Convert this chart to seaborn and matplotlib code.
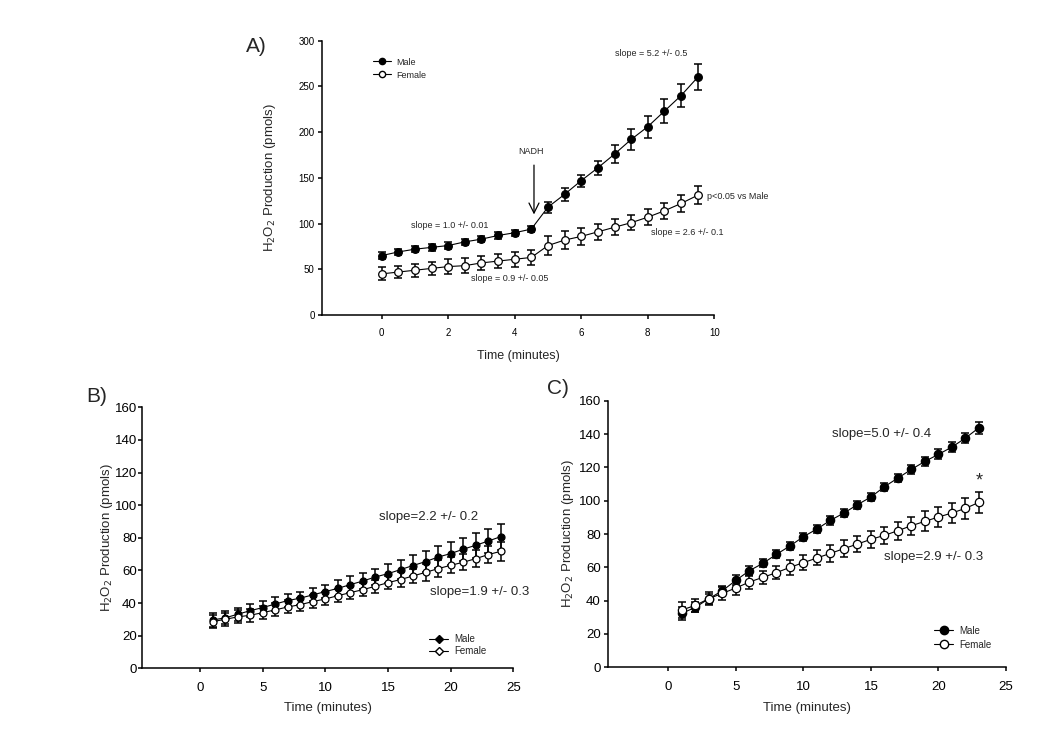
import matplotlib
matplotlib.use("Agg")
import matplotlib.pyplot as plt
from matplotlib.lines import Line2D
import seaborn as sns
import pandas as pd

sns.set_theme(style="ticks")
plt.rcParams['font.family'] = ['Liberation Sans', 'DejaVu Sans']

# Panel A: NADH added at 4.5 min
a_time = [0, 0.5, 1, 1.5, 2, 2.5, 3, 3.5, 4, 4.5, 5, 5.5, 6, 6.5, 7, 7.5, 8, 8.5, 9, 9.5]
a_male = [65, 69, 72, 74, 76, 80, 83, 87, 90, 94, 118, 132, 147, 161, 176, 192, 206, 223, 240, 260]
a_male_err = [3.5, 3.5, 3.5, 3.5, 3.5, 3.5, 3.5, 3.5, 3.5, 3.5, 6, 7, 6.5, 8, 10, 12, 12, 13, 13, 14]
a_female = [45, 47, 49, 51, 53, 54, 57, 59, 61, 63, 76, 82, 86, 91, 96, 101, 107, 114, 122, 131]
a_female_err = [7, 7, 7, 7, 8, 8, 8, 8, 8, 8, 10, 10, 9, 9, 9, 8, 9, 9, 9, 10]

# Panel B
b_time = list(range(1, 25))
b_male = [29.6, 30.9, 33.1, 35.3, 37.2, 39.4, 41.5, 43, 45, 47, 49, 51.3,
          53.5, 56, 58, 60.5, 63, 65.4, 68.2, 70.3, 73, 75.4, 78, 80.7]
b_male_err = [4, 4, 4, 4, 4, 4, 4, 4, 4, 4, 5, 5, 5, 5, 6, 6, 6.5, 6.5, 7, 7, 7, 7.5, 7.5, 8]
b_female = [28.6, 30, 31.5, 32.5, 34.1, 35.8, 37.6, 39, 40.9, 42.5, 44.5, 46.4,
            48.2, 50.3, 52.5, 54.4, 56.6, 58.8, 61.1, 63.1, 65, 67.2, 69.7, 71.7]
b_female_err = [4, 4, 4, 4, 4, 4, 4, 4, 4, 4, 4, 4, 4, 4, 4, 4.5, 4.5, 5, 5, 5, 5, 5, 5, 6]

# Panel C
c_time = list(range(1, 24))
c_male = [32.4, 36, 41.2, 46, 52.2, 58, 62.4, 67.8, 72.8, 78.4, 83, 88.2,
          92.6, 97.6, 102.2, 108.4, 113.6, 118.8, 123.6, 127.8, 132.2, 137.6, 143.8]
c_male_err = [4, 3, 3, 3, 3, 3, 2.5, 2.5, 2.5, 2.5, 2.5, 2.5, 2.5, 2.5, 2.5,
              2.5, 2.5, 2.5, 2.5, 3, 3, 3, 3.5]
c_female = [34.4, 37.2, 41.2, 44.4, 47.6, 51.2, 54, 56.8, 60, 62.8, 65.6, 68.4,
            71.2, 74, 76.8, 79.2, 82, 85, 87.6, 90.2, 92.6, 95.4, 99]
c_female_err = [5, 4, 4, 4, 4, 4, 4, 4, 4.5, 4.5, 4.5, 5, 5, 5, 5, 5, 5.5, 5.5,
                6, 6, 6, 6.5, 6.2]

ylab = "H$_2$O$_2$ Production (pmols)"


def draw(ax, t, y, err, filled, ms, cap):
    df = pd.DataFrame({"t": t, "y": y, "err": err})
    ax.errorbar(df["t"], df["y"], yerr=df["err"], fmt="none", ecolor="black",
                elinewidth=1.1, capsize=cap, capthick=1.1, zorder=2, clip_on=False)
    sns.lineplot(data=df, x="t", y="y", ax=ax, color="black", lw=0.8,
                 marker="o", markersize=ms, markeredgecolor="black",
                 markeredgewidth=0.9,
                 markerfacecolor="black" if filled else "white", zorder=3)


def style(ax, fs, xpad, ypad):
    sns.despine(ax=ax)
    for s in ("left", "bottom"):
        ax.spines[s].set_linewidth(1.1)
        ax.spines[s].set_color("black")
    ax.tick_params(colors="black", width=1.1, length=3, labelsize=fs)
    ax.tick_params(axis="x", pad=xpad)
    ax.tick_params(axis="y", pad=ypad)


def legend(ax, marker, ms, x, y, fs, spacing):
    h = [Line2D([], [], color="black", lw=0.8, marker=marker, ms=ms, mec="black", mfc="black"),
         Line2D([], [], color="black", lw=0.8, marker=marker, ms=ms, mec="black", mfc="white")]
    ax.legend(h, ["Male", "Female"], loc="upper left", bbox_to_anchor=(x, y),
              frameon=False, fontsize=fs, borderpad=0, handlelength=2.0,
              handletextpad=0.6, labelspacing=spacing)


fig = plt.figure(figsize=(10.5, 7.39), dpi=100)
axA = fig.add_axes([0.3064, 0.5737, 0.3739, 0.3712])
axB = fig.add_axes([0.135, 0.0957, 0.3539, 0.3532])
axC = fig.add_axes([0.5788, 0.097, 0.3793, 0.3608])

# A
draw(axA, a_time, a_male, a_male_err, True, 5.5, 3)
draw(axA, a_time, a_female, a_female_err, False, 5.5, 3)
axA.set_xlim(-1.8, 10)
axA.set_ylim(0, 300)
axA.set_xticks(range(0, 11, 2))
axA.set_yticks(range(0, 301, 50))
style(axA, 7, 6, 2)
axA.set_xlabel("Time (minutes)", fontsize=9, labelpad=9)
axA.set_ylabel(ylab, fontsize=9.5, labelpad=15)
legend(axA, "o", 4.5, 0.118, 0.955, 6.5, 0.45)
axA.text(2.05, 98, "slope = 1.0 +/- 0.01", fontsize=6.5, ha="center", va="center")
axA.text(3.86, 39.5, "slope = 0.9 +/- 0.05", fontsize=6.5, ha="center", va="center")
axA.text(8.1, 285.5, "slope = 5.2 +/- 0.5", fontsize=6.5, ha="center", va="center")
axA.text(9.2, 90.6, "slope = 2.6 +/- 0.1", fontsize=6.5, ha="center", va="center")
axA.text(9.77, 129.6, "p<0.05 vs Male", fontsize=6.5, ha="left", va="center")
axA.text(4.5, 179, "NADH", fontsize=6.5, ha="center", va="center")
axA.annotate("", xy=(4.58, 107), xytext=(4.58, 167),
             arrowprops=dict(arrowstyle="->", color="black", lw=0.9, mutation_scale=18))

# B
draw(axB, b_time, b_male, b_male_err, True, 5, 3)
draw(axB, b_time, b_female, b_female_err, False, 5, 3)
axB.set_xlim(-4.65, 25)
axB.set_ylim(0, 160)
axB.set_xticks(range(0, 26, 5))
axB.set_yticks(range(0, 161, 20))
style(axB, 9.5, 7, 0.5)
axB.set_xlabel("Time (minutes)", fontsize=9.5, labelpad=6)
axB.set_ylabel(ylab, fontsize=9.5, labelpad=0)
legend(axB, "D", 4, 0.76, 0.15, 7, 0.25)
axB.text(18.2, 93, "slope=2.2 +/- 0.2", fontsize=9.5, ha="center", va="center")
axB.text(22.3, 46.6, "slope=1.9 +/- 0.3", fontsize=9.5, ha="center", va="center")

# C
draw(axC, c_time, c_male, c_male_err, True, 6, 3)
draw(axC, c_time, c_female, c_female_err, False, 6, 3)
axC.set_xlim(-4.49, 25)
axC.set_ylim(0, 160)
axC.set_xticks(range(0, 26, 5))
axC.set_yticks(range(0, 161, 20))
style(axC, 9.5, 7, 2)
axC.set_xlabel("Time (minutes)", fontsize=9.5, labelpad=6)
axC.set_ylabel(ylab, fontsize=9.5, labelpad=2)
legend(axC, "o", 6, 0.807, 0.175, 7, 0.45)
axC.text(15.8, 140, "slope=5.0 +/- 0.4", fontsize=9.5, ha="center", va="center")
axC.text(19.6, 66, "slope=2.9 +/- 0.3", fontsize=9.5, ha="center", va="center")
axC.text(23.0, 112, "*", fontsize=13, ha="center", va="center")

fig.text(0.244, 0.937, "A)", fontsize=15, ha="center", va="center")
fig.text(0.092, 0.464, "B)", fontsize=15, ha="center", va="center")
fig.text(0.531, 0.474, "C)", fontsize=15, ha="center", va="center")

fig.savefig("out.png", dpi=100, facecolor="white")
